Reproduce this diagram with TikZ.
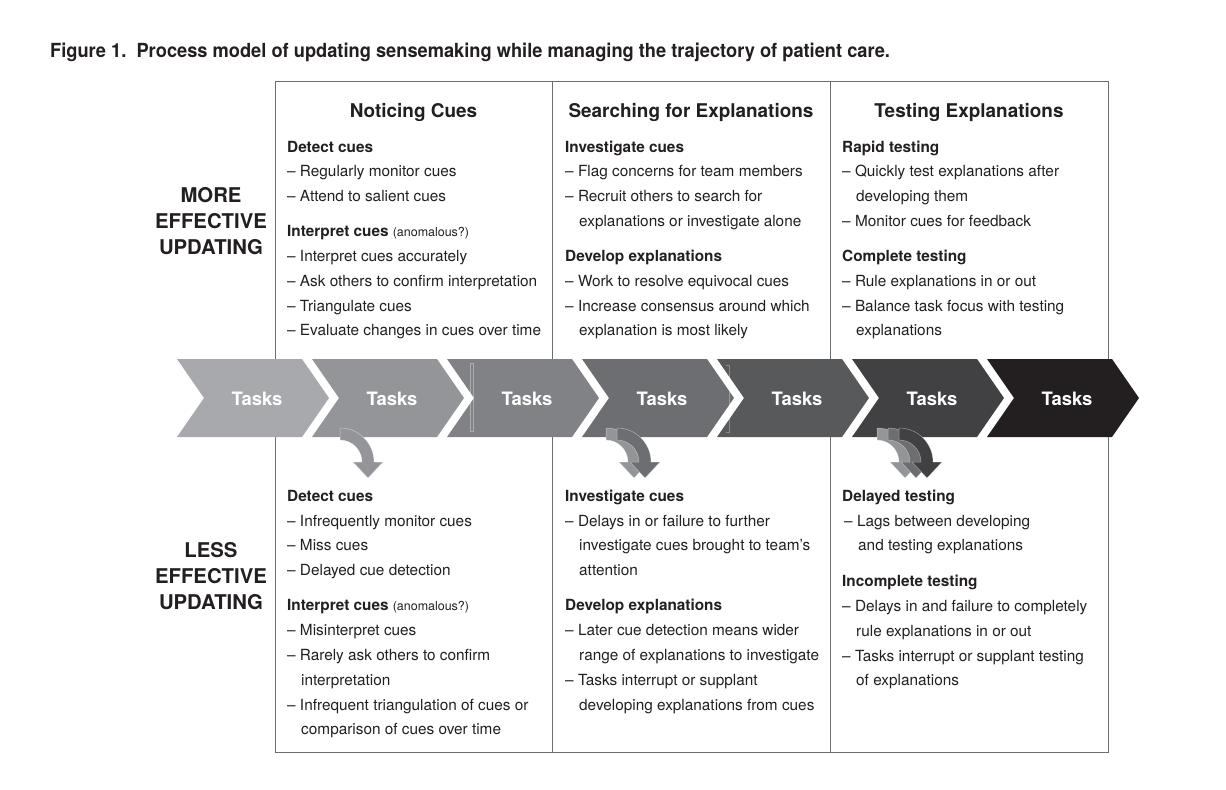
\documentclass[tikz,border=0pt]{standalone}
\usepackage{graphicx}
\usepackage{fontspec}
\setmainfont{TeX Gyre Heros}
\definecolor{ink}{HTML}{231F20}
\definecolor{framec}{HTML}{6D6E71}
\definecolor{cA}{HTML}{A7A9AC}
\definecolor{cB}{HTML}{939598}
\definecolor{cC}{HTML}{808285}
\definecolor{cD}{HTML}{6D6E71}
\definecolor{cE}{HTML}{58595B}
\definecolor{cF}{HTML}{414042}
\definecolor{cG}{HTML}{231F20}
\newcommand\notefont{\fontsize{12.5}{14}\selectfont\mdseries}
\newcommand\chevronat[3]{%
  \fill[#2] (#1,359) -- ++(125,0) -- ++(27,39) -- ++(-27,39) -- ++(-125,0) -- ++(27,-39) -- cycle;
  \node[task] (#3) at (#1+80,399) {Tasks};}
\newcommand\curlarrow[2]{%
  \filldraw[fill=#2, draw=white, draw opacity=0.45, line width=0.5bp]
    (#1,428) arc[start angle=-90, end angle=0, radius=34] -- ++(9,0) -- ++(-15,16)
    -- ++(-15,-16) -- ++(9,0) arc[start angle=0, end angle=-90, radius=22] -- cycle;}
\begin{document}
\begin{tikzpicture}[x=1bp,y=-1bp,
  body/.style={anchor=base west, inner sep=0pt, text=ink, font=\fontsize{15.4}{18}\selectfont},
  sub/.style={body, font=\fontsize{15.4}{18}\selectfont\bfseries},
  colhead/.style={anchor=base, inner sep=0pt, text=ink, font=\fontsize{19}{22}\selectfont\bfseries},
  side/.style={anchor=base, inner sep=0pt, text=ink, font=\fontsize{20.4}{24}\selectfont\bfseries},
  task/.style={inner sep=0pt, text=white, font=\fontsize{18.5}{20}\selectfont\bfseries},
  frame/.style={draw=framec, line width=0.9bp}]
\useasboundingbox[fill=white] (0,0) rectangle (1226,790);

% title
\node[anchor=base west, inner sep=0pt, text=ink, font=\fontsize{19.5}{22}\selectfont\bfseries] (title) at (50,58)
  {\scalebox{0.94}[1]{Figure 1.\ \ Process model of updating sensemaking while managing the trajectory of patient care.}};

% frame
\draw[frame] (275,81) rectangle (1108,752);
\draw[frame] (552,81) -- (552,752);
\draw[frame] (830,81) -- (830,752);

% chevrons
\chevronat{177}{cA}{k1}
\chevronat{312}{cB}{k2}
\chevronat{447}{cC}{k3}
\chevronat{582}{cD}{k4}
\chevronat{717}{cE}{k5}
\chevronat{852}{cF}{k6}
\chevronat{987}{cG}{k7}
\draw[draw=white, draw opacity=0.35, line width=0.5bp] (470,363) rectangle (473,431);
\draw[draw=white, draw opacity=0.3, line width=0.5bp] (726,365) -- (729,365) -- (729,432) -- (726,432);

% curved arrows
\curlarrow{340}{cB}
\curlarrow{606}{cB}
\curlarrow{617}{cD}
\curlarrow{877}{cB}
\curlarrow{888}{cD}
\curlarrow{899}{cF}

% side labels
\node[side] (m1) at (211,202) {MORE};
\node[side] (m2) at (211,228) {EFFECTIVE};
\node[side] (m3) at (211,254) {UPDATING};
\node[side] (l1) at (211,557) {LESS};
\node[side] (l2) at (211,583) {EFFECTIVE};
\node[side] (l3) at (211,609) {UPDATING};

% column heads
\node[colhead] (h1) at (413.5,118) {Noticing Cues};
\node[colhead] (h2) at (691,118) {Searching for Explanations};
\node[colhead] (h3) at (969,118) {Testing Explanations};

% top, column 1
\node[sub]  (a1) at (287,152) {Detect cues};
\node[body] (a2) at (287,176) {– Regularly monitor cues};
\node[body] (a3) at (287,201) {– Attend to salient cues};
\node[sub]  (a4) at (287,236) {Interpret cues {\notefont(anomalous?)}};
\node[body] (a5) at (287,261) {– Interpret cues accurately};
\node[body] (a6) at (287,286) {– Ask others to confirm interpretation};
\node[body] (a7) at (287,311) {– Triangulate cues};
\node[body] (a8) at (287,335) {– Evaluate changes in cues over time};

% top, column 2
\node[sub]  (b1) at (565,152) {Investigate cues};
\node[body] (b2) at (565,176) {– Flag concerns for team members};
\node[body] (b3) at (565,201) {– Recruit others to search for};
\node[body] (b4) at (579,226) {explanations or investigate alone};
\node[sub]  (b5) at (565,261) {Develop explanations};
\node[body] (b6) at (565,286) {– Work to resolve equivocal cues};
\node[body] (b7) at (565,311) {– Increase consensus around which};
\node[body] (b8) at (579,335) {explanation is most likely};

% top, column 3
\node[sub]  (c1) at (842,152) {Rapid testing};
\node[body] (c2) at (842,176) {– Quickly test explanations after};
\node[body] (c3) at (856,201) {developing them};
\node[body] (c4) at (842,226) {– Monitor cues for feedback};
\node[sub]  (c5) at (842,261) {Complete testing};
\node[body] (c6) at (842,286) {– Rule explanations in or out};
\node[body] (c7) at (842,311) {– Balance task focus with testing};
\node[body] (c8) at (856,335) {explanations};

% bottom, column 1
\node[sub]  (d1) at (287,501) {Detect cues};
\node[body] (d2) at (287,526) {– Infrequently monitor cues};
\node[body] (d3) at (287,550) {– Miss cues};
\node[body] (d4) at (287,575) {– Delayed cue detection};
\node[sub]  (d5) at (287,610) {Interpret cues {\notefont(anomalous?)}};
\node[body] (d6) at (287,635) {– Misinterpret cues};
\node[body] (d7) at (287,660) {– Rarely ask others to confirm};
\node[body] (d8) at (301,685) {interpretation};
\node[body] (d9) at (287,710) {– Infrequent triangulation of cues or};
\node[body] (d10) at (301,734) {comparison of cues over time};

% bottom, column 2
\node[sub]  (e1) at (565,501) {Investigate cues};
\node[body] (e2) at (565,526) {– Delays in or failure to further};
\node[body] (e3) at (579,550) {investigate cues brought to team’s};
\node[body] (e4) at (579,575) {attention};
\node[sub]  (e5) at (565,610) {Develop explanations};
\node[body] (e6) at (565,635) {– Later cue detection means wider};
\node[body] (e7) at (579,660) {range of explanations to investigate};
\node[body] (e8) at (565,685) {– Tasks interrupt or supplant};
\node[body] (e9) at (579,710) {developing explanations from cues};

% bottom, column 3
\node[sub]  (f1) at (842,501) {Delayed testing};
\node[body] (f2) at (844,526) {– Lags between developing};
\node[body] (f3) at (858,550) {and testing explanations};
\node[sub]  (f4) at (842,586) {Incomplete testing};
\node[body] (f5) at (842,611) {– Delays in and failure to completely};
\node[body] (f6) at (856,636) {rule explanations in or out};
\node[body] (f7) at (842,661) {– Tasks interrupt or supplant testing};
\node[body] (f8) at (856,685) {of explanations};
\end{tikzpicture}
\end{document}
